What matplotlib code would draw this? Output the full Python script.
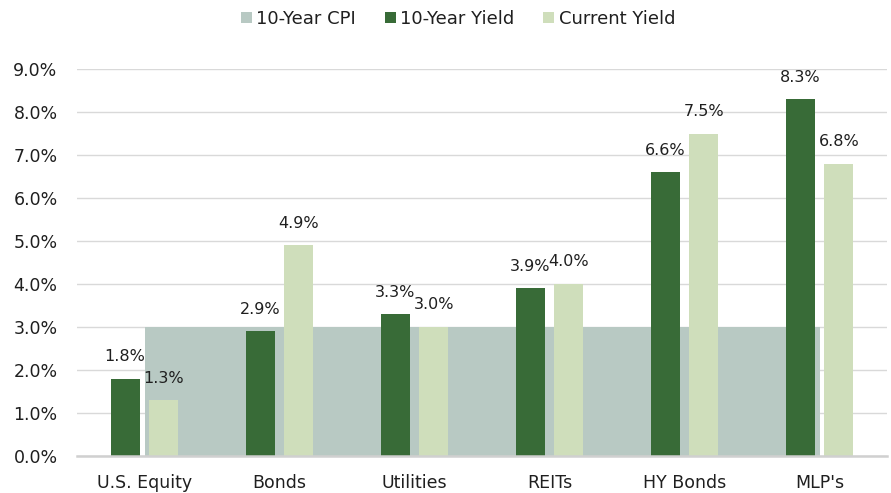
import matplotlib
matplotlib.use("Agg")
import matplotlib.pyplot as plt
import numpy as np

categories = ["U.S. Equity", "Bonds", "Utilities", "REITs", "HY Bonds", "MLP's"]
cpi_10yr = [3.0, 3.0, 3.0, 3.0, 3.0, 3.0]
yield_10yr = [1.8, 2.9, 3.3, 3.9, 6.6, 8.3]
current_yield = [1.3, 4.9, 3.0, 4.0, 7.5, 6.8]
y_ticks = [0, 1, 2, 3, 4, 5, 6, 7, 8, 9]
series_names = ["10-Year CPI", "10-Year Yield", "Current Yield"]

c_cpi = "#B8C9C3"
c_dark = "#386B37"
c_light = "#CFDEBB"
txt = "#1F1F1F"

plt.rcParams["font.family"] = ["DejaVu Sans"]

fig = plt.figure(figsize=(8.91, 4.93), dpi=100)
ax = fig.add_axes([77 / 891, 1 - 456 / 493, 810 / 891, 387 / 493])

x = np.arange(len(categories))
ax.fill_between(x, 0, cpi_10yr, color=c_cpi, linewidth=0, zorder=1, label=series_names[0])

w = 0.215
off = 0.144
b1 = ax.bar(x - off, yield_10yr, width=w, color=c_dark, zorder=2, label=series_names[1])
b2 = ax.bar(x + off, current_yield, width=w, color=c_light, zorder=2, label=series_names[2])

for bars, vals in ((b1, yield_10yr), (b2, current_yield)):
    for r, v in zip(bars, vals):
        ax.annotate(f"{v:.1f}%", (r.get_x() + r.get_width() / 2, v),
                    xytext=(0, 10.5), textcoords="offset points",
                    ha="center", va="bottom", fontsize=11.5, color=txt, zorder=5)

ax.set_xlim(-0.5, len(categories) - 0.5)
ax.set_ylim(0, 9)
ax.set_yticks(y_ticks)
ax.set_yticklabels([f"{v:.1f}%" for v in y_ticks])
ax.set_xticks(x)
ax.set_xticklabels(categories)
ax.tick_params(axis="both", length=0, labelsize=12.5, colors=txt)
ax.tick_params(axis="y", pad=14)
ax.tick_params(axis="x", pad=13)
ax.yaxis.grid(True, color="#D9D9D9", linewidth=1, zorder=0)
ax.set_axisbelow(True)
for s in ("top", "right", "left"):
    ax.spines[s].set_visible(False)
ax.spines["bottom"].set_color("#D0D0D0")
ax.spines["bottom"].set_linewidth(1.8)
ax.spines["bottom"].set_zorder(3)

handles, labels = ax.get_legend_handles_labels()
leg = fig.legend(handles, labels, loc="center", bbox_to_anchor=(458 / 891, 1 - 19 / 493),
                 ncol=3, frameon=False, fontsize=13, handlelength=0.6, handleheight=0.6,
                 handletextpad=0.25, columnspacing=1.6, labelcolor=txt)

fig.savefig("out.png", dpi=100)
